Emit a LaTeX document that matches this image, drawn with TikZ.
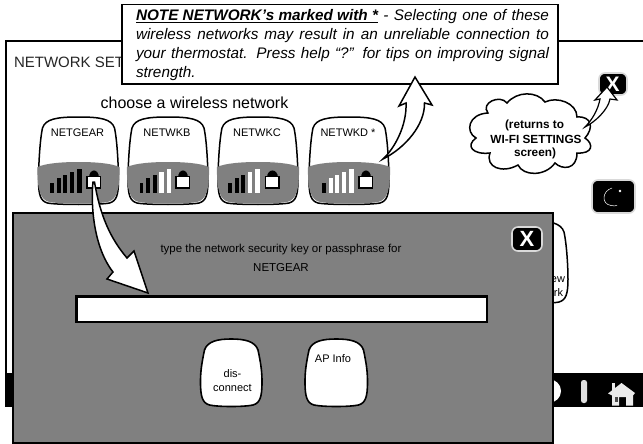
\documentclass[tikz,border=0pt]{standalone}
\usepackage{fontspec}
\setmainfont{Liberation Sans}
\newcommand{\fs}[1]{\fontsize{#1}{#1}\selectfont}
\tikzset{
  x=1pt,y=-1pt,
  blockarrow/.style={draw=black,fill=white,line width=1.5pt,line join=miter},
  lbl/.style={inner sep=0pt,outer sep=0pt,font=\fs{11}},
  cloudtxt/.style={inner sep=0pt,outer sep=0pt,font=\bfseries\fs{11.8}},
  notetxt/.style={inner sep=0pt,outer sep=0pt,anchor=west,font=\itshape\fs{15.3}},
  halo/.style={fill=black,draw=black!15,line width=1.6pt,rounded corners=6pt},
}
\definecolor{panel}{gray}{0.5}
% rounded "squircle" button
\newcommand{\Squircle}[5][]{%
  \draw[fill=white,#1] ({(#2+#4)/2},#3) .. controls ({#2+18},#3) and ({#2+7},{#3+2}) .. ({#2+4},{#3+11})
  .. controls ({#2+1},{#3+25}) and (#2,{#5-35}) .. (#2,{#5-25})
  .. controls (#2,{#5-10}) and ({#2+2},{#5-4}) .. ({#2+9},{#5-2})
  .. controls ({#2+18},#5) and ({#4-18},#5) .. ({#4-9},{#5-2})
  .. controls ({#4-2},{#5-4}) and (#4,{#5-10}) .. (#4,{#5-25})
  .. controls (#4,{#5-35}) and ({#4-1},{#3+25}) .. ({#4-4},{#3+11})
  .. controls ({#4-7},{#3+2}) and ({#4-18},#3) .. ({(#2+#4)/2},#3) -- cycle;}
\newcommand{\NetBtn}[3]{%
  \pgfmathsetmacro{\xr}{#1+80}%
  \Squircle[line width=1.5pt]{#1}{117}{\xr}{205}
  \fill[panel] ({#1-1},167) .. controls ({#1+8},163) and ({#1+25},162) .. ({#1+40},162)
    .. controls ({#1+55},162) and ({#1+72},163) .. ({#1+81},167)
    .. controls ({#1+81.5},190) and ({#1+78},200) .. ({#1+69},202)
    .. controls ({#1+60},204) and ({#1+20},204) .. ({#1+11},202)
    .. controls ({#1+2},200) and ({#1-1.5},190) .. ({#1-1},167) -- cycle;
  \node[lbl] (#3) at ({#1+39},133) {#2};}
\newcommand{\Signal}[6]{%
  \fill[#2] (#1,183) rectangle ({#1+3.8},193);
  \fill[#3] ({#1+6.5},178) rectangle ({#1+10.5},193);
  \fill[#4] ({#1+13},175) rectangle ({#1+17.2},193);
  \fill[#5] ({#1+19.8},172) rectangle ({#1+24},193);
  \fill[#6] ({#1+27},169) rectangle ({#1+31.5},193);}
\newcommand{\Lock}[1]{%
  \fill[black] ({#1+1.5},178) .. controls ({#1+1.5},167.5) and ({#1+12},167.5) .. ({#1+12},178) -- cycle;
  \draw[fill=white,line width=1.3pt] (#1,176.5) rectangle ({#1+13.5},188);}
\begin{document}
\begin{tikzpicture}
\useasboundingbox (0,0) rectangle (643,444);
\fill[white] (0,0) rectangle (643,444);
% screen frame
\draw[line width=2pt] (643,41.5) -- (5.5,41.5) -- (5.5,407);
\node[lbl,anchor=west,font=\fs{15},text=black!85] (title) at (14,62) {NETWORK SET};
\node[lbl,font=\fs{16}] (choose) at (194.5,103) {choose a wireless network};
% network buttons
\NetBtn{38.5}{NETGEAR}{netgear}
\NetBtn{128}{NETWKB}{netwkb}
\NetBtn{218}{NETWKC}{netwkc}
\NetBtn{309}{NETWKD *}{netwkd}
\Signal{50}{black}{black}{black}{black}{black}
\Signal{139.5}{black}{black}{black}{white}{white}
\Signal{228}{black}{black}{black}{white}{white}
\Signal{322}{black}{white}{white}{white}{white}
\Lock{87}
\Lock{176}
\Lock{265.6}
\Lock{359}
% hidden button at the right
\Squircle[line width=1.5pt]{500}{221}{568}{304}
\node[lbl,anchor=east] (newa) at (565,280) {ew};
\node[lbl,anchor=east] (newb) at (563,293) {rk};
% bottom bar
\fill[black] (5,373) rectangle (643,407);
\fill[white] (549.4,391) circle (11.6);
\fill[black!12,rounded corners=2.5pt] (581,380) rectangle (587,403);
% home icon
\fill[black!8] (612,383) rectangle (615,391);
\fill[black!8] (621.5,383) -- (635,393) -- (633,395.5) -- (633,405.5) -- (626,405.5) -- (626,397) -- (619,397) -- (619,405.5) -- (612,405.5) -- (612,395.5) -- (608,393.5) -- cycle;
\fill[black!70] (615,397) rectangle (618,402);
% moon button
\draw[halo] (592,180) rectangle (635,213);
\draw[white,line width=.5pt] (612,188) .. controls (602,191) and (601,204) .. (611,205.5) .. controls (613,206) and (616,206) .. (617,205.5);
\fill[white] (620,191) circle (1.4);
% close button
\draw[halo] (599,73) rectangle (627,95);
\node[inner sep=0pt,text=white,font=\bfseries\fs{21}] (closea) at (612.5,84) {X};
% cloud
\draw[fill=white,line width=1.5pt]
  (488,113) .. controls (480,103) and (500,94) .. (507,103)
  .. controls (517,91) and (537,91) .. (545,102)
  .. controls (557,96) and (577,103) .. (577,117)
  .. controls (592,116) and (594,128) .. (585,138)
  .. controls (594,144) and (593,154) .. (577,153)
  .. controls (577,170) and (562,170) .. (555,163)
  .. controls (545,177) and (523,176) .. (518,165)
  .. controls (502,174) and (485,167) .. (490,153)
  .. controls (473,155) and (465,146) .. (476,138)
  .. controls (465,132) and (468,114) .. (488,113) -- cycle;
\node[cloudtxt] (cloudtexta) at (534.5,125) {(returns to};
\node[cloudtxt] (cloudtextb) at (536,139) {WI-FI SETTINGS};
\node[cloudtxt] (cloudtextc) at (535,153) {screen)};
% note
\draw[fill=white,line width=1.5pt] (122,4.5) rectangle (558,84);
\node[notetxt] (note1) at (136,17) {\makebox[413pt][s]{\textbf{\underline{NOTE NETWORK’s marked with *}} - Selecting one of these}};
\node[notetxt] (note2) at (136,36) {\makebox[413pt][s]{wireless networks may result in an unreliable connection to}};
\node[notetxt] (note3) at (136,55) {\makebox[413pt][s]{your thermostat. Press help “?”  for tips on improving signal}};
\node[notetxt] (note4) at (136,74) {strength.};
% arrow from NETWKD to note
\draw[blockarrow] (383,159) .. controls (395,148) and (407,125) .. (406,103) -- (399,106) -- (415,77) -- (432,105) -- (424.5,103) .. controls (425,125) and (405,148) .. (383,159) -- cycle;
% arrow from cloud to close button
\draw[blockarrow,line width=1.2pt] (585,127) .. controls (592,120) and (598,110) .. (600,99) -- (595,100) -- (607,87) -- (617,100) -- (610,99) .. controls (608,110) and (595,122) .. (585,127) -- cycle;
% modal panel
\draw[fill=panel,line width=2pt] (12.5,213) rectangle (553,443);
\node[lbl,font=\fs{11.5}] (key1) at (281,250) {type the network security key or passphrase for};
\node[lbl,font=\fs{11.5}] (key2) at (281,267.5) {NETGEAR};
\draw[fill=white,line width=2.2pt] (76.5,296.5) rectangle (487,322);
\Squircle[line width=1.6pt]{200.5}{339}{262}{407}
\node[lbl] (disca) at (232.5,374) {dis-};
\node[lbl] (discb) at (232.5,388) {connect};
\Squircle[line width=1.6pt]{305}{339}{367.5}{407}
\node[lbl] (apinfo) at (333,359) {AP Info};
\draw[halo] (512,227) rectangle (542,251);
\node[inner sep=0pt,text=white,font=\bfseries\fs{22}] (closeb) at (527,239) {X};
% arrow from NETGEAR lock to field
\draw[blockarrow] (93,182) .. controls (91,200) and (92,245) .. (113,272) -- (107,279) -- (148,293) -- (134,251) -- (127,258) .. controls (110,238) and (100,215) .. (94.5,182) -- cycle;
\end{tikzpicture}
\end{document}
